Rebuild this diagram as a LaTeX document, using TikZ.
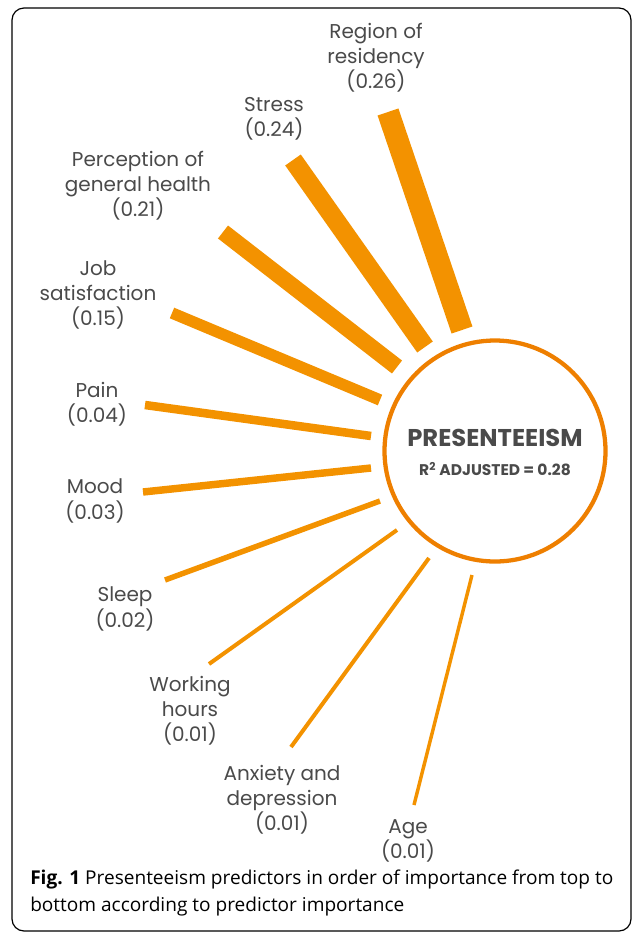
\documentclass[tikz,border=0pt]{standalone}
\usepackage{fontspec}
\setmainfont{Poppins}
\newfontfamily\capfont{Open Sans}
\definecolor{barorange}{HTML}{F39200}
\definecolor{ringorange}{HTML}{EE7F00}
\definecolor{txtgray}{HTML}{4A4A4A}
\begin{document}
\begin{tikzpicture}[x=0.75pt,y=-0.75pt,
  lbl/.style={align=center,text=txtgray,font=\fontsize{15}{18.9}\selectfont,inner sep=0pt},
  bar/.style={draw=barorange,line cap=butt},
]
\useasboundingbox (0,0) rectangle (634,936);
\draw[black,line width=0.9pt,rounded corners=9pt] (12,8) rectangle (631,931);

% central circle
\node[circle,draw=ringorange,line width=3.2pt,minimum size=221*0.75pt,inner sep=0pt] (pres) at (495,451) {};
\node[text=txtgray,font=\bfseries\fontsize{18.2}{20}\selectfont,inner sep=0pt] (ptitle) at (495,438) {PRESENTEEISM};
\node[text=txtgray,font=\bfseries\fontsize{11.6}{13}\selectfont,inner sep=0pt] (padj) at (495,469) {R\textsuperscript{2} ADJUSTED = 0.28};

% labels
\node[lbl] (region) at (376,58) {Region of\\residency\\(0.26)};
\node[lbl] (stress) at (274,119) {Stress\\(0.24)};
\node[lbl] (percep) at (138,186) {Perception of\\general health\\(0.21)};
\node[lbl] (job) at (98,295) {Job\\satisfaction\\(0.15)};
\node[lbl] (pain) at (97,404) {Pain\\(0.04)};
\node[lbl] (mood) at (95,501) {Mood\\(0.03)};
\node[lbl] (sleep) at (125,609) {Sleep\\(0.02)};
\node[lbl] (work) at (190,711) {Working\\hours\\(0.01)};
\node[lbl] (anx) at (282,800) {Anxiety and\\depression\\(0.01)};
\node[lbl] (age) at (408,841) {Age\\(0.01)};

% bar end points
\coordinate (regionA) at (388,112); \coordinate (regionB) at (462,330);
\coordinate (stressA) at (293,160); \coordinate (stressB) at (425,347);
\coordinate (percepA) at (223,232); \coordinate (percepB) at (397,367);
\coordinate (jobA) at (172,313);    \coordinate (jobB) at (380,400);
\coordinate (painA) at (145,405);   \coordinate (painB) at (371,436);
\coordinate (moodA) at (143,492);   \coordinate (moodB) at (371,468);
\coordinate (sleepA) at (165,580);  \coordinate (sleepB) at (380,501);
\coordinate (workA) at (209,664);   \coordinate (workB) at (397,530);
\coordinate (anxA) at (291,747);    \coordinate (anxB) at (429,558);
\coordinate (ageA) at (414,805);    \coordinate (ageB) at (472,575);

\draw[bar,line width=16.5pt] (regionA) -- (regionB);
\draw[bar,line width=14.3pt] (stressA) -- (stressB);
\draw[bar,line width=12.3pt] (percepA) -- (percepB);
\draw[bar,line width=8.6pt] (jobA) -- (jobB);
\draw[bar,line width=6.4pt] (painA) -- (painB);
\draw[bar,line width=5.6pt] (moodA) -- (moodB);
\draw[bar,line width=4.1pt] (sleepA) -- (sleepB);
\draw[bar,line width=3pt] (workA) -- (workB);
\draw[bar,line width=3pt] (anxA) -- (anxB);
\draw[bar,line width=2.6pt] (ageA) -- (ageB);

% caption
\node[anchor=north west,inner sep=0pt,align=left,text=black,font=\capfont\fontsize{14.3}{20.2}\selectfont] (cap) at (30,870)
  {\textbf{Fig. 1} Presenteeism predictors in order of importance from top to\\bottom according to predictor importance};
\end{tikzpicture}
\end{document}
